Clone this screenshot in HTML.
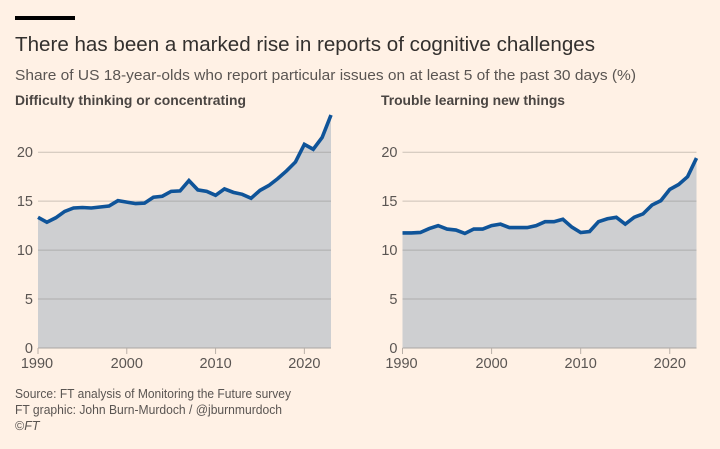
<!DOCTYPE html>
<html lang="en">
<head>
<meta charset="utf-8">
<title>Rise in reports of cognitive challenges</title>
<style>
html,body{margin:0;padding:0;background:#fff1e5}
svg{display:block;font-family:"Liberation Sans",sans-serif}
</style>
</head>
<body>
<svg id="chart" xmlns="http://www.w3.org/2000/svg" width="720" height="449" viewBox="0 0 720 449">
<rect x="0" y="0" width="720" height="449" fill="#fff1e5"/>
<rect x="15" y="16" width="60" height="4" fill="#000"/>
<text x="15" y="51" font-size="20.5" fill="#33302e" textLength="580" lengthAdjust="spacingAndGlyphs">There has been a marked rise in reports of cognitive challenges</text>
<text x="15" y="80" font-size="15" fill="#5a5552" textLength="621" lengthAdjust="spacingAndGlyphs">Share of US 18-year-olds who report particular issues on at least 5 of the past 30 days (%)</text>
<text x="15" y="105" font-size="14" font-weight="bold" fill="#4a4542" textLength="231" lengthAdjust="spacingAndGlyphs">Difficulty thinking or concentrating</text>
<text x="381" y="105" font-size="14" font-weight="bold" fill="#4a4542" textLength="184" lengthAdjust="spacingAndGlyphs">Trouble learning new things</text>
<text x="15" y="398" font-size="12.5" fill="#5a5552" textLength="276" lengthAdjust="spacingAndGlyphs">Source: FT analysis of Monitoring the Future survey</text>
<text x="15" y="414" font-size="12.5" fill="#5a5552" textLength="267" lengthAdjust="spacingAndGlyphs">FT graphic: John Burn-Murdoch / @jburnmurdoch</text>
<text x="15" y="430" font-size="12.5" fill="#5a5552">©<tspan font-style="italic">FT</tspan></text>
</svg>
<script>
const years = [1990,1991,1992,1993,1994,1995,1996,1997,1998,1999,2000,2001,2002,2003,2004,2005,2006,2007,2008,2009,2010,2011,2012,2013,2014,2015,2016,2017,2018,2019,2020,2021,2022,2023];
const difficultyThinking = [13.35,12.85,13.3,13.95,14.3,14.35,14.3,14.4,14.5,15.05,14.9,14.75,14.8,15.4,15.5,16,16.05,17.1,16.15,16,15.6,16.25,15.9,15.7,15.3,16.1,16.6,17.3,18.1,19,20.8,20.3,21.5,23.8];
const troubleLearning = [11.75,11.75,11.8,12.2,12.5,12.15,12.05,11.7,12.15,12.15,12.5,12.65,12.3,12.3,12.3,12.5,12.9,12.9,13.15,12.35,11.8,11.9,12.9,13.2,13.35,12.65,13.35,13.7,14.6,15.05,16.2,16.7,17.5,19.4];
const yTicks = [0,5,10,15,20];
const xTicks = [1990,2000,2010,2020];

const NS = 'http://www.w3.org/2000/svg';
const svg = document.getElementById('chart');
function make(parent, tag, attrs, txt){
  const el = document.createElementNS(NS, tag);
  for (const k in attrs) el.setAttribute(k, attrs[k]);
  if (txt !== undefined) el.textContent = txt;
  parent.appendChild(el);
  return el;
}
function yScale(v){ return 348 - v * 9.79; }
function drawPanel(prefix, values, left, right){
  function xScale(yr){ return left + (yr - years[0]) * (right - left) / (years[years.length-1] - years[0]); }
  const g = make(svg, 'g', {});
  
  

  yTicks.forEach(function(t){
    const y = yScale(t);
    if (t > 0) {
      const line = make(g, 'line', {x1:left, x2:right, y1:y, y2:y, stroke:'#ccc1b7', 'stroke-width':1});
      
      
    }
    const lab = make(g, 'text', {x:left - 5, y:y + 5, 'font-size':14.5, fill:'#5a5552', 'text-anchor':'end'}, String(t));
    
    
  });

  const pts = values.map(function(v, i){ return xScale(years[i]).toFixed(2) + ',' + yScale(v).toFixed(2); });
  const lineD = 'M' + pts.join('L');
  const areaD = lineD + 'L' + xScale(years[years.length-1]) + ',' + yScale(0) + 'L' + xScale(years[0]) + ',' + yScale(0) + 'Z';

  const area = make(g, 'path', {d:areaD, fill:'#cecfd1'});
  
  

  const clip = make(g, 'clipPath', {id:prefix + '-clip'});
  make(clip, 'path', {d:areaD});
  const inner = make(g, 'g', {'clip-path':'url(#' + prefix + '-clip)'});
  
  
  yTicks.forEach(function(t){
    if (t > 0) {
      const y = yScale(t);
      make(inner, 'line', {x1:left, x2:right, y1:y, y2:y, stroke:'#adadad', 'stroke-width':1});
    }
  });

  const base = make(g, 'line', {x1:left, x2:right, y1:yScale(0), y2:yScale(0), stroke:'#a9a6a3', 'stroke-width':1});
  
  

  xTicks.forEach(function(t){
    const x = xScale(t);
    const tick = make(g, 'line', {x1:x, x2:x, y1:yScale(0), y2:yScale(0) + 6, stroke:'#b9b0a8', 'stroke-width':1});
    
    
    const lab = make(g, 'text', {x:x - (t === 1990 ? 1 : 0), y:368, 'font-size':14.5, fill:'#5a5552', 'text-anchor':'middle'}, String(t));
    
    
  });

  const path = make(g, 'path', {d:lineD, fill:'none', stroke:'#0f5499', 'stroke-width':3.6, 'stroke-linejoin':'miter'});
  
  
}
drawPanel('difficulty-thinking', difficultyThinking, 38, 331);
drawPanel('trouble-learning', troubleLearning, 402.5, 696.5);
</script>
</body>
</html>
